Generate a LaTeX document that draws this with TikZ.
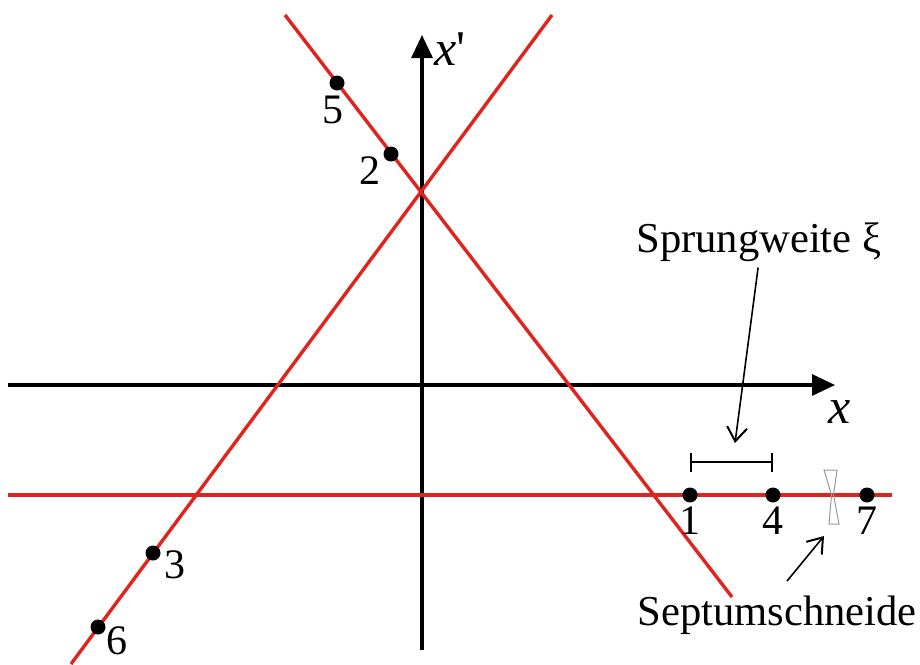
\documentclass[tikz,border=0pt]{standalone}
\usepackage{fontspec}
\setmainfont{Liberation Serif}
\usetikzlibrary{arrows.meta}
\definecolor{beamred}{RGB}{225,35,30}
\tikzset{
  axis/.style={line width=1.6pt, -{Triangle[length=11.5pt,width=10.5pt]}},
  orbit/.style={beamred, line width=1.7pt},
  turn/.style={circle, fill=black, inner sep=0pt, minimum size=7.5pt},
  num/.style={font=\fontsize{21}{24}\selectfont, inner sep=0pt},
  lbl/.style={font=\fontsize{21.3}{25}\selectfont, inner sep=0pt},
  axlbl/.style={font=\fontsize{25}{29}\selectfont, inner sep=0pt, anchor=base west},
  ptr/.style={line width=0.8pt, -{Straight Barb[length=7pt,width=10pt,line width=1pt]}},
}
\begin{document}
\begin{tikzpicture}[x=0.5pt,y=-0.5pt]
\useasboundingbox (0,0) rectangle (920,664);
% axes
\draw[axis] (8,385) -- (835,385);
\draw[axis] (422,650) -- (422,35);
\node[axlbl] (xlab) at (828,423) {\itshape x};
\node[axlbl] (xplab) at (434,65) {{\itshape x}\textquotesingle};
% orbit lines
\draw[orbit] (285,15) -- (732,597);
\draw[orbit] (552,15) -- (71,664);
\draw[orbit] (8,495) -- (892,495);
% turns
\node[turn] (t5) at (337,83) {};
\node[turn] (t2) at (391,154) {};
\node[turn] (t3) at (153,553) {};
\node[turn] (t6) at (98,627) {};
\node[turn] (t1) at (690,495) {};
\node[turn] (t4) at (773,495) {};
\node[turn] (t7) at (867,495) {};
\node[num] (n5) at (333,110) {5};
\node[num] (n2) at (370,171) {2};
\node[num] (n3) at (175,565) {3};
\node[num] (n6) at (117,641) {6};
\node[num] (n1) at (690,521) {1};
\node[num] (n4) at (773,521) {4};
\node[num] (n7) at (867,521) {7};
% step width
\draw[line width=1pt, {Bar[width=9.5pt]}-{Bar[width=9.5pt]}] ([yshift=16.5pt]t1.center) -- ([yshift=16.5pt]t4.center);
\node[lbl, anchor=base west] (sw) at (636,252) {Sprungweite ξ};
\coordinate (swtip) at (735,443);
\draw[ptr, shorten <=3pt] (sw.south) -- (swtip);
% septum
\draw[gray!80, line width=0.5pt] (824,470) -- (837,470) -- (833.5,495) -- (839,524) -- (829,524) -- (831.5,495) -- cycle;
\node[lbl, anchor=base west] (ss) at (637,625) {Septumschneide};
\coordinate (sstip) at (824,536);
\draw[ptr] ([xshift=5pt,yshift=7pt]ss.north) -- (sstip);
\end{tikzpicture}
\end{document}
